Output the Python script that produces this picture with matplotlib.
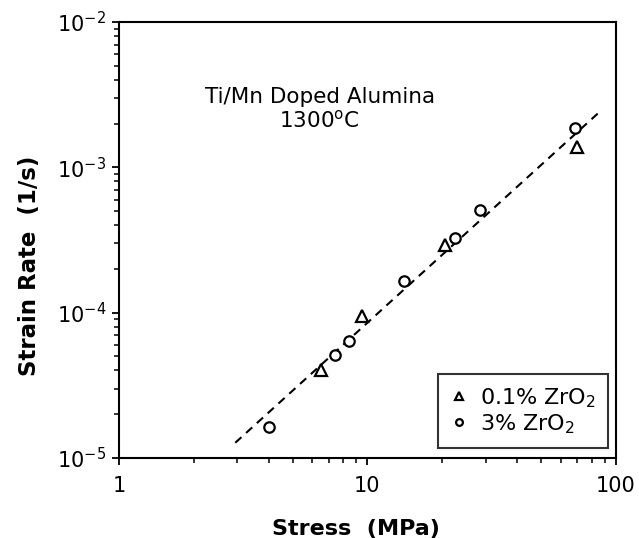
import matplotlib
matplotlib.use("Agg")
import matplotlib.pyplot as plt
from matplotlib.ticker import LogLocator, FixedLocator, FixedFormatter, NullFormatter

plt.rcParams['font.family'] = ['DejaVu Sans']
plt.rcParams['mathtext.fontset'] = 'dejavusans'

# Data
tri_stress = [6.5, 9.5, 20.6, 69.6]
tri_rate = [4.0e-5, 9.5e-5, 2.9e-4, 1.37e-3]
circ_stress = [4.03, 7.43, 8.46, 14.0, 22.6, 28.3, 68.5]
circ_rate = [1.64e-5, 5.1e-5, 6.4e-5, 1.64e-4, 3.24e-4, 5.1e-4, 1.86e-3]
fit_stress = [2.94, 88.0]
fit_rate = [1.27e-5, 2.5e-3]

x_ticks = [1, 10, 100]
x_labels = ['1', '10', '100']
y_ticks = [1e-5, 1e-4, 1e-3, 1e-2]
y_labels = [r'$10^{-5}$', r'$10^{-4}$', r'$10^{-3}$', r'$10^{-2}$']

fig = plt.figure(figsize=(6.39, 5.38), dpi=100)
ax = fig.add_axes([0.186, 0.149, 0.778, 0.810])

ax.plot(fit_stress, fit_rate, linestyle=(0, (4, 3)), color='black', linewidth=1.5)
ax.plot(tri_stress, tri_rate, linestyle='none', marker='^', markersize=9,
        markerfacecolor='white', markeredgecolor='black', markeredgewidth=1.6,
        label='0.1% ZrO$_2$')
ax.plot(circ_stress, circ_rate, linestyle='none', marker='o', markersize=7.5,
        markerfacecolor='white', markeredgecolor='black', markeredgewidth=1.6,
        label='3% ZrO$_2$')

ax.set_xscale('log')
ax.set_yscale('log')
ax.set_xlim(1, 100)
ax.set_ylim(1e-5, 1e-2)

ax.xaxis.set_major_locator(FixedLocator(x_ticks))
ax.xaxis.set_major_formatter(FixedFormatter(x_labels))
ax.yaxis.set_major_locator(FixedLocator(y_ticks))
ax.yaxis.set_major_formatter(FixedFormatter(y_labels))
ax.xaxis.set_minor_locator(LogLocator(base=10, subs=range(2, 10)))
ax.yaxis.set_minor_locator(LogLocator(base=10, subs=range(2, 10)))
ax.xaxis.set_minor_formatter(NullFormatter())
ax.yaxis.set_minor_formatter(NullFormatter())

ax.tick_params(which='major', direction='out', length=5, width=1.3, labelsize=15,
               top=False, right=False)
ax.tick_params(which='minor', direction='out', length=3.5, width=1.1,
               top=False, right=False)
ax.tick_params(axis='x', which='major', pad=8)
ax.tick_params(axis='y', which='major', pad=4)

for sp in ax.spines.values():
    sp.set_linewidth(1.5)

ax.set_xlabel('Stress  (MPa)', fontsize=16, fontweight='bold')
ax.xaxis.set_label_coords(0.477, -0.14)
ax.set_ylabel('Strain Rate  (1/s)', fontsize=16.5, fontweight='bold')
ax.yaxis.label.set_va('center')
ax.yaxis.set_label_coords(-0.18, 0.44)

ax.text(0.404, 0.814, 'Ti/Mn Doped Alumina', transform=ax.transAxes,
        ha='center', va='baseline', fontsize=15.5)
ax.text(0.404, 0.759, '1300$^{\\rm o}$C', transform=ax.transAxes,
        ha='center', va='baseline', fontsize=15.5)

leg = ax.legend(loc='lower right', fontsize=16, frameon=True, fancybox=False,
                edgecolor='black', markerscale=0.65, handlelength=0.8,
                handletextpad=0.55, borderpad=0.55, labelspacing=0.1,
                borderaxespad=0.0, bbox_to_anchor=(0.984, 0.023))
leg.get_frame().set_linewidth(1.5)

fig.savefig('out.png', dpi=100)
